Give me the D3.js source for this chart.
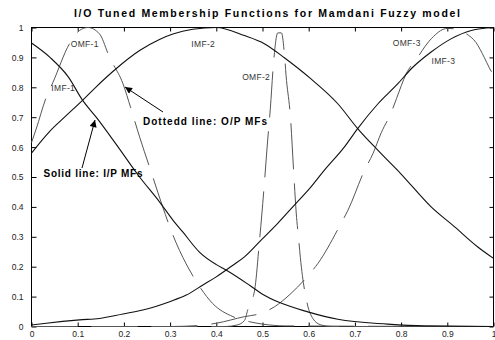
<!DOCTYPE html>
<html>
<head>
<meta charset="utf-8">
<script src="https://cdn.jsdelivr.net/npm/d3@7"></script>
<style>
  body { margin: 0; background: #fff; }
  text { font-family: "Liberation Sans", Arial, sans-serif; }
</style>
</head>
<body>
<div id="chart"></div>
<script>
// SVG area dimensions
var svgWidth = 495;
var svgHeight = 340;

// plot box
var margin = { top: 27.5, right: 1.5, bottom: 13.5, left: 31.5 };
var width = svgWidth - margin.left - margin.right;
var height = svgHeight - margin.top - margin.bottom;

// tick values
var xTicks = [0, 0.1, 0.2, 0.3, 0.4, 0.5, 0.6, 0.7, 0.8, 0.9, 1];
var yTicks = [0, 0.1, 0.2, 0.3, 0.4, 0.5, 0.6, 0.7, 0.8, 0.9, 1];

// input MFs (solid), [x, mu]
var imf1 = [[0, 0.948], [0.04, 0.9], [0.08, 0.834], [0.11, 0.758], [0.14, 0.7], [0.183, 0.61],
  [0.234, 0.5], [0.277, 0.417], [0.306, 0.356], [0.327, 0.317], [0.364, 0.248], [0.4, 0.207],
  [0.421, 0.189], [0.472, 0.138], [0.5, 0.108], [0.537, 0.08], [0.598, 0.049], [0.663, 0.024],
  [0.771, 0.008], [0.85, 0.002], [1, 0]];
var imf2 = [[0, 0.58], [0.039, 0.652], [0.075, 0.705], [0.111, 0.757], [0.139, 0.8], [0.183, 0.862],
  [0.234, 0.923], [0.277, 0.96], [0.306, 0.978], [0.349, 0.994], [0.4, 1.0], [0.461, 0.973],
  [0.504, 0.946], [0.548, 0.898], [0.605, 0.828], [0.663, 0.745], [0.706, 0.662], [0.75, 0.589],
  [0.8, 0.51], [0.865, 0.4], [0.916, 0.333], [0.966, 0.266], [1, 0.228]];
var imf3 = [[0, 0.005], [0.032, 0.011], [0.104, 0.022], [0.147, 0.027], [0.198, 0.042], [0.241, 0.055],
  [0.299, 0.083], [0.335, 0.105], [0.371, 0.139], [0.4, 0.166], [0.436, 0.205], [0.461, 0.233],
  [0.497, 0.289], [0.533, 0.345], [0.569, 0.406], [0.605, 0.467], [0.634, 0.523], [0.677, 0.6],
  [0.706, 0.662], [0.75, 0.745], [0.793, 0.812], [0.822, 0.862], [0.865, 0.918], [0.908, 0.962],
  [0.952, 0.99], [1, 1.0]];

// output MFs (dashed)
var omf1 = [[0, 0.615], [0.01, 0.66], [0.032, 0.767], [0.046, 0.815], [0.082, 0.945], [0.104, 0.99],
  [0.122, 1.0], [0.147, 0.979], [0.169, 0.9], [0.198, 0.812], [0.216, 0.725], [0.234, 0.634],
  [0.259, 0.517], [0.284, 0.4], [0.302, 0.322], [0.313, 0.28], [0.342, 0.189], [0.364, 0.133],
  [0.392, 0.077], [0.436, 0.033], [0.472, 0.016], [0.5, 0.008], [0.55, 0.002], [1, 0]];
var omf2 = [[0, 0], [0.42, 0], [0.445, 0.005], [0.461, 0.02], [0.468, 0.055], [0.483, 0.122],
  [0.493, 0.278], [0.504, 0.478], [0.51, 0.6], [0.517, 0.73], [0.524, 0.884], [0.533, 0.982],
  [0.541, 0.982], [0.548, 0.9], [0.551, 0.84], [0.561, 0.69], [0.567, 0.53], [0.573, 0.38],
  [0.579, 0.28], [0.582, 0.23], [0.597, 0.075], [0.609, 0.027], [0.627, 0.005], [0.65, 0], [1, 0]];
var omf3 = [[0, 0], [0.3, 0], [0.36, 0.003], [0.4, 0.011], [0.461, 0.033], [0.497, 0.044],
  [0.526, 0.066], [0.562, 0.111], [0.598, 0.169], [0.62, 0.211], [0.67, 0.345], [0.685, 0.389],
  [0.721, 0.523], [0.739, 0.578], [0.757, 0.648], [0.779, 0.717], [0.79, 0.762], [0.811, 0.845],
  [0.836, 0.9], [0.851, 0.935], [0.87, 0.97], [0.9, 0.997], [0.92, 0.995], [0.941, 0.979],
  [0.962, 0.95], [0.98, 0.9], [0.991, 0.865], [1, 0.84]];

// curve labels [text, x, mu]
var curveLabels = [['OMF-1', 0.085, 0.935], ['IMF-1', 0.043, 0.787], ['IMF-2', 0.346, 0.935],
  ['OMF-2', 0.456, 0.823], ['OMF-3', 0.782, 0.937], ['IMF-3', 0.866, 0.877]];

var svg = d3.select('#chart')
  .append('svg')
  .attr('width', svgWidth)
  .attr('height', svgHeight);

var xScale = d3.scaleLinear().domain([0, 1]).range([margin.left, margin.left + width]);
var yScale = d3.scaleLinear().domain([0, 1]).range([margin.top + height, margin.top]);

// title
svg.append('text')
  .attr('x', 74)
  .attr('y', 16.5)
  .attr('textLength', 386)
  .attr('lengthAdjust', 'spacing')
  .style('font-size', '10.5px')
  .style('font-weight', 'bold')
  .text('I/O Tuned Membership Functions for Mamdani Fuzzy model');

// axes, ticks inward like matlab
var bottomAxis = d3.axisBottom(xScale).tickValues(xTicks).tickSizeInner(-4).tickSizeOuter(0)
  .tickPadding(6).tickFormat(d3.format('~g'));
var topAxis = d3.axisTop(xScale).tickValues(xTicks).tickSizeInner(-4).tickSizeOuter(0).tickFormat('');
var leftAxis = d3.axisLeft(yScale).tickValues(yTicks).tickSizeInner(-5).tickSizeOuter(0)
  .tickPadding(8).tickFormat(d3.format('~g'));
var rightAxis = d3.axisRight(yScale).tickValues(yTicks).tickSizeInner(-4).tickSizeOuter(0).tickFormat('');

var gx = svg.append('g').attr('transform', `translate(0, ${margin.top + height})`).call(bottomAxis);
var gt = svg.append('g').attr('transform', `translate(0, ${margin.top})`).call(topAxis);
var gy = svg.append('g').attr('transform', `translate(${margin.left}, 0)`).call(leftAxis);
var gr = svg.append('g').attr('transform', `translate(${margin.left + width}, 0)`).call(rightAxis);

[gx, gt, gy, gr].forEach(function (g) {
  g.select('.domain').remove();
  g.selectAll('line').attr('stroke', '#000');
  g.selectAll('text').style('font-size', '8.5px').attr('fill', '#222');
});
gx.selectAll('text').attr('dy', '0.5em');
gy.selectAll('text').attr('dy', '0.35em');

// frame
svg.append('rect')
  .attr('x', margin.left)
  .attr('y', margin.top)
  .attr('width', width)
  .attr('height', height)
  .attr('fill', 'none')
  .attr('stroke', '#000')
  .attr('stroke-width', 1);

var line = d3.line()
  .x((d) => xScale(d[0]))
  .y((d) => yScale(d[1]))
  .curve(d3.curveMonotoneX);

var plot = svg.append('g');

// dashed output MFs
[omf1, omf2, omf3].forEach(function (data) {
  plot.append('path')
    .datum(data)
    .attr('d', line)
    .attr('fill', 'none')
    .attr('stroke', '#555')
    .attr('stroke-width', 1)
    .attr('stroke-dasharray', '46,14');
});

// solid input MFs
[imf1, imf2, imf3].forEach(function (data) {
  plot.append('path')
    .datum(data)
    .attr('d', line)
    .attr('fill', 'none')
    .attr('stroke', '#111')
    .attr('stroke-width', 1.1);
});

// curve labels
svg.selectAll('.mf-label')
  .data(curveLabels)
  .enter()
  .append('text')
  .attr('class', 'mf-label')
  .attr('x', (d) => xScale(d[1]))
  .attr('y', (d) => yScale(d[2]))
  .style('font-size', '8.5px')
  .style('letter-spacing', '0.3px')
  .attr('fill', '#333')
  .text((d) => d[0]);

// arrow marker
svg.append('defs')
  .append('marker')
  .attr('id', 'arrow')
  .attr('viewBox', '0 0 10 10')
  .attr('refX', 10)
  .attr('refY', 5)
  .attr('markerWidth', 9)
  .attr('markerHeight', 7)
  .attr('markerUnits', 'userSpaceOnUse')
  .attr('orient', 'auto')
  .append('path')
  .attr('d', 'M0,0 L10,5 L0,10 z')
  .attr('fill', '#000');

// annotations
svg.append('line')
  .attr('x1', 163).attr('y1', 112)
  .attr('x2', 125).attr('y2', 87)
  .attr('stroke', '#000')
  .attr('marker-end', 'url(#arrow)');

svg.append('text')
  .attr('x', 143)
  .attr('y', 124.5)
  .attr('textLength', 124)
  .attr('lengthAdjust', 'spacing')
  .style('font-size', '10px')
  .style('font-weight', 'bold')
  .text('Dottedd line: O/P MFs');

svg.append('line')
  .attr('x1', 82).attr('y1', 168)
  .attr('x2', 95).attr('y2', 120)
  .attr('stroke', '#000')
  .attr('marker-end', 'url(#arrow)');

svg.append('text')
  .attr('x', 43.5)
  .attr('y', 177)
  .attr('textLength', 99)
  .attr('lengthAdjust', 'spacing')
  .style('font-size', '10px')
  .style('font-weight', 'bold')
  .text('Solid line: I/P MFs');
</script>
</body>
</html>
